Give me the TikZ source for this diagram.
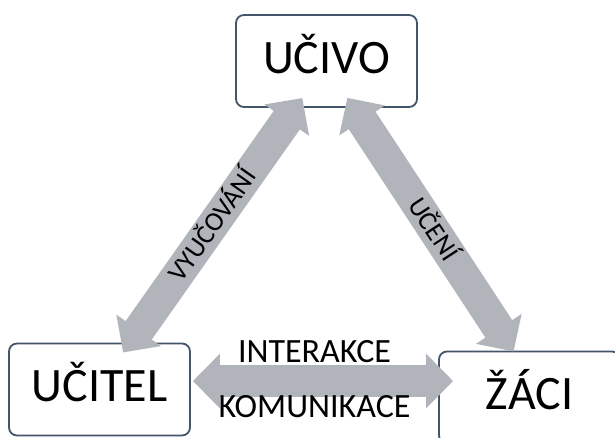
\documentclass[tikz,border=0pt]{standalone}
\usepackage{fontspec}
\setmainfont{Carlito}
\definecolor{ArrowGrey}{RGB}{177,180,187}
\definecolor{BoxEdge}{HTML}{44546A}
\usetikzlibrary{arrows.meta}
\usetikzlibrary{calc}
\tikzset{
  diagram style/.style={
    x=1pt, y=-1pt,
  },
  topic box/.style={
    draw=BoxEdge,
    line width=1.8pt,
    fill=white,
    rounded corners=8pt,
    minimum width=181pt,
    minimum height=92pt,
    inner sep=0pt,
    text height=30pt,
    text depth=6pt,
    font=\fontsize{48}{52}\selectfont
  },
  block arrow/.style={
    draw=ArrowGrey,
    line width=32pt,
    {Triangle[length=27pt,width=53pt]}-{Triangle[length=27pt,width=53pt]}
  },
  diag label/.style={
    text=black,
    sloped,
    inner sep=0pt,
    text height=17pt,
    text depth=0pt,
    font=\fontsize{27}{30}\selectfont
  },
  flat label/.style={
    text=black,
    inner sep=0pt,
    font=\fontsize{34}{37}\selectfont
  },
}

\begin{document}
\begin{tikzpicture}[diagram style]
  \useasboundingbox (0,0) rectangle (615,437);
  \clip (0,0) rectangle (615,437);
  % the three boxes
  \node[topic box] (ucivo)  at (326.5,61)  {UČIVO};
  \node[topic box] (ucitel) at (99.5,389.5) {UČITEL};
  \node[topic box] (zaci)   at (529.5,397.5) {ŽÁCI};
  % block arrows between them
  \draw[block arrow, shorten <=-12pt, shorten >=-12pt]
    ($(ucitel.north west)!0.667!(ucitel.north east)$)
    -- ($(ucivo.south west)!0.33!(ucivo.south east)$)
    node[diag label, pos=0.5] {VYUČOVÁNÍ};
  \draw[block arrow, shorten <=-12pt, shorten >=-1pt]
    ($(ucivo.south west)!0.65!(ucivo.south east)$)
    -- ($(zaci.north west)!0.41!(zaci.north east)$)
    node[diag label, pos=0.5] {UČENÍ};
  \draw[block arrow, shorten <=2pt, shorten >=-15pt]
    ($(ucitel.north east)!0.41!(ucitel.south east)$) coordinate (h1)
    -- (h1 -| zaci.west)
    node[flat label, midway, yshift=29pt] {INTERAKCE}
    node[flat label, midway, yshift=-26pt] {KOMUNIKACE};
\end{tikzpicture}
\end{document}
